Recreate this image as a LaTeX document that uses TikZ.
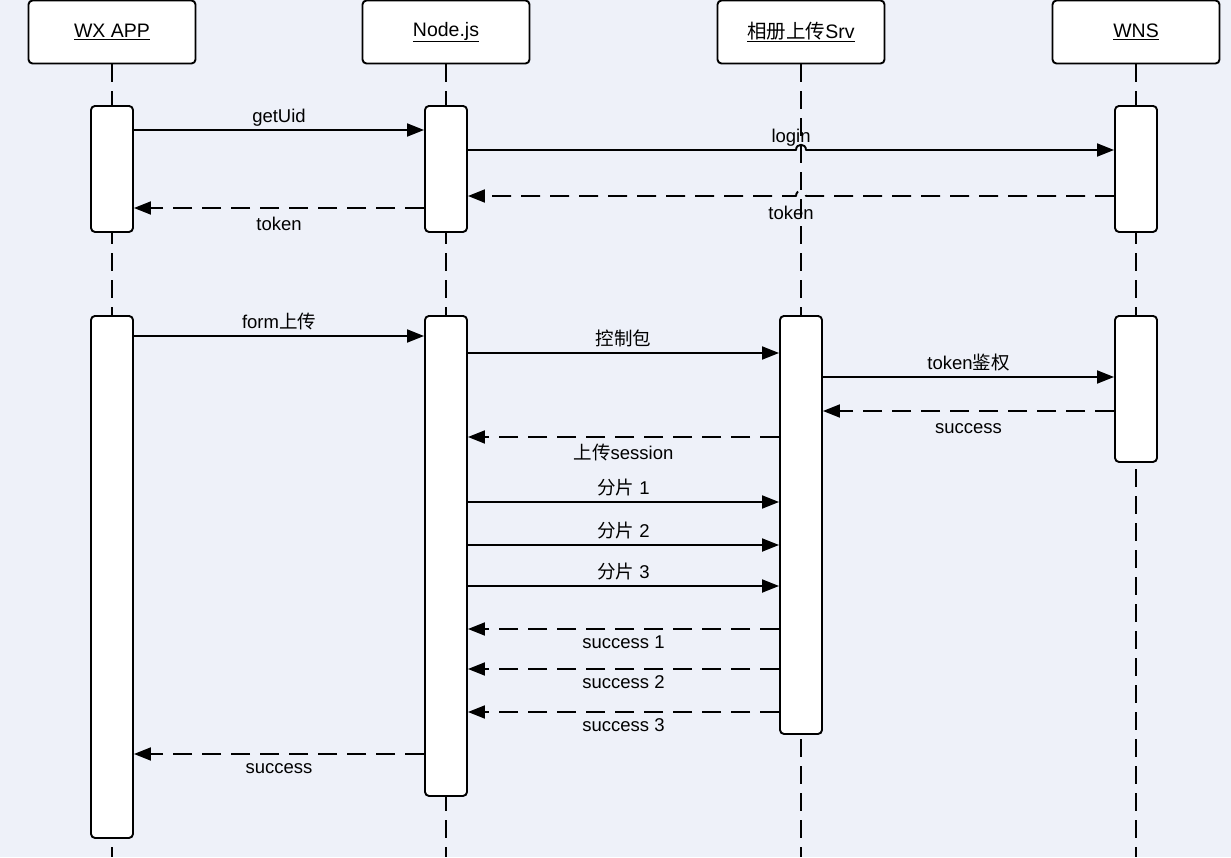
\documentclass[tikz,border=0pt]{standalone}
\usepackage{fontspec}
\setmainfont{Liberation Sans}
\newfontfamily\cjk{Noto Sans CJK SC}
\usetikzlibrary{arrows.meta,calc}
\definecolor{bgblue}{HTML}{EEF1F9}

\tikzset{
  head/.style={draw, fill=white, rounded corners=4pt, line width=1.9pt,
    minimum width=167pt, minimum height=63pt},
  act/.style={draw, fill=white, rounded corners=4pt, line width=1.9pt,
    minimum width=42pt, anchor=north},
  life/.style={line width=1.9pt, dash pattern=on 18pt off 9pt},
  msg/.style={line width=1.9pt, -{Triangle[length=17pt,width=13pt]}},
  reply/.style={msg, dash pattern=on 19pt off 10pt},
  lblup/.style={midway, anchor=base, yshift=8pt},
  lbldown/.style={midway, anchor=base, yshift=-22pt},
}

\begin{document}
\begin{tikzpicture}[x=1pt, y=-1pt, line join=round, font=\fontsize{18.5}{22}\selectfont]
  \fill[bgblue] (0,0) rectangle (1231,857);
  \useasboundingbox (0,0) rectangle (1231,857);

  % heads and life lines
  \foreach \n/\x/\t in {wx/112/WX APP, nd/446/Node.js, srv/801/{\cjk 相册上传}Srv, wns/1136/WNS}{
    \node[head, font=\fontsize{19.5}{22}\selectfont] (\n) at (\x,32) {\underline{\t}};
    \draw[life] (\n.south) -- (\n.south |- 0,857);
  }

  % activations
  \foreach \n/\h/\top/\len in {wx1/wx/105/126, wx2/wx/315/522, nd1/nd/105/126, nd2/nd/315/480,
                               srv2/srv/315/418, wns1/wns/105/126, wns2/wns/315/146}
    \node[act, minimum height=\len] (\n) at (\h.south |- 0,\top) {};

  % first round: uid and token
  \draw[msg] (wx1.east |- 0,130) -- (nd1.west |- 0,130) node[lblup] {getUid};
  \coordinate (j1) at (srv.south |- 0,150);
  \coordinate (j2) at (srv.south |- 0,196);
  \draw[msg] (nd1.east |- j1) -- node[pos=0.985, anchor=base, yshift=8pt] {login} ($(j1)+(-5,0)$)
    .. controls +(0,-7) and +(0,-7) .. ($(j1)+(5,0)$) -- (wns1.west |- j1);
  \draw[reply] (wns1.west |- j2) -- ($(j2)+(5,0)$)
    .. controls +(0,-7) and +(0,-7) .. ($(j2)+(-5,0)$)
    -- node[pos=0.015, anchor=base, yshift=-23pt] {token} (nd1.east |- j2);
  \draw[reply] (nd1.west |- 0,208) -- (wx1.east |- 0,208) node[lbldown] {token};

  % second round: upload
  \draw[msg] (wx2.east |- 0,336) -- (nd2.west |- 0,336) node[lblup] {form{\cjk 上传}};
  \draw[msg] (nd2.east |- 0,353) -- (srv2.west |- 0,353) node[lblup] {{\cjk 控制包}};
  \draw[msg] (srv2.east |- 0,377) -- (wns2.west |- 0,377) node[lblup] {token{\cjk 鉴权}};
  \draw[reply] (wns2.west |- 0,411) -- (srv2.east |- 0,411) node[lbldown] {success};
  \draw[reply] (srv2.west |- 0,437) -- (nd2.east |- 0,437) node[lbldown] {{\cjk 上传}session};
  \foreach \i/\y in {1/502, 2/545, 3/586}
    \draw[msg] (nd2.east |- 0,\y) -- (srv2.west |- 0,\y) node[lblup] {{\cjk 分片} \i};
  \foreach \i/\y in {1/629, 2/669, 3/712}
    \draw[reply] (srv2.west |- 0,\y) -- (nd2.east |- 0,\y) node[lbldown, yshift=3pt] {success \i};
  \draw[reply] (nd2.west |- 0,754) -- (wx2.east |- 0,754) node[lbldown, yshift=3pt] {success};
\end{tikzpicture}
\end{document}
